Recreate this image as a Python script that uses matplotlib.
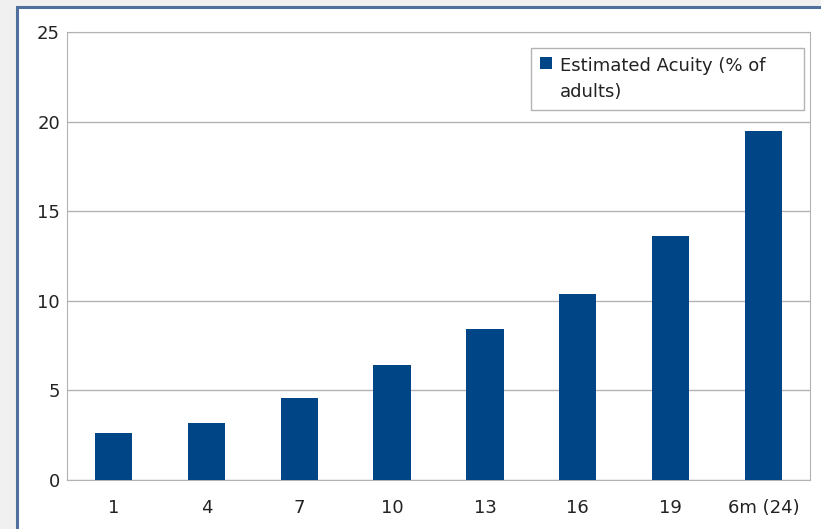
import matplotlib.pyplot as plt
from matplotlib.patches import Rectangle

# age in months (last group is the 6-month mark, 24 weeks)
ages = ["1", "4", "7", "10", "13", "16", "19", "6m (24)"]
acuity = [2.6, 3.2, 4.6, 6.4, 8.4, 10.4, 13.6, 19.5]

fig = plt.figure(figsize=(8.21, 5.29), dpi=100)
fig.patch.set_facecolor("#f0f0f0")

# white panel with a blue frame on the left and top
W, H = 821, 529
fig.patches.append(Rectangle((17 / W, -0.05), 1.1, (H - 7) / H + 0.05,
                             transform=fig.transFigure, facecolor="white",
                             edgecolor="#4f6f9c", linewidth=2.2, zorder=-1))

ax = fig.add_axes([67 / W, (H - 480) / H, (810 - 67) / W, (480 - 32) / H])
ax.set_zorder(1)
x = range(len(ages))
ax.bar(x, acuity, width=0.4, color="#004586", zorder=3,
       label="Estimated Acuity (% of\nadults)")

ax.set_xlim(-0.5, len(ages) - 0.5)
ax.set_ylim(0, 25)
ax.set_yticks([0, 5, 10, 15, 20, 25])
ax.set_xticks(list(x))
ax.set_xticklabels(ages)
ax.yaxis.grid(True, color="#b3b3b3", linewidth=1)
ax.set_axisbelow(True)
ax.tick_params(length=0, labelsize=13, colors="#222222")
ax.tick_params(axis="x", pad=14)
ax.tick_params(axis="y", pad=5)
for s in ax.spines.values():
    s.set_color("#b3b3b3")

leg = ax.legend(loc="upper left", bbox_to_anchor=(0.6245, 0.964, 0.3675, 0.0),
                mode="expand", fontsize=13, fancybox=False,
                edgecolor="#b3b3b3", framealpha=1, handlelength=0.65,
                handleheight=0.65, handletextpad=0.45, borderpad=0.5,
                borderaxespad=0)
leg.get_frame().set_linewidth(1)
for t in leg.get_texts():
    t.set_color("#222222")
    t.set_linespacing(1.55)
# keep the square next to the first line of the label
for col in leg._legend_handle_box.get_children():
    for row in col.get_children():
        row.align = "top"

fig.savefig("out.png", dpi=100, facecolor=fig.get_facecolor())
